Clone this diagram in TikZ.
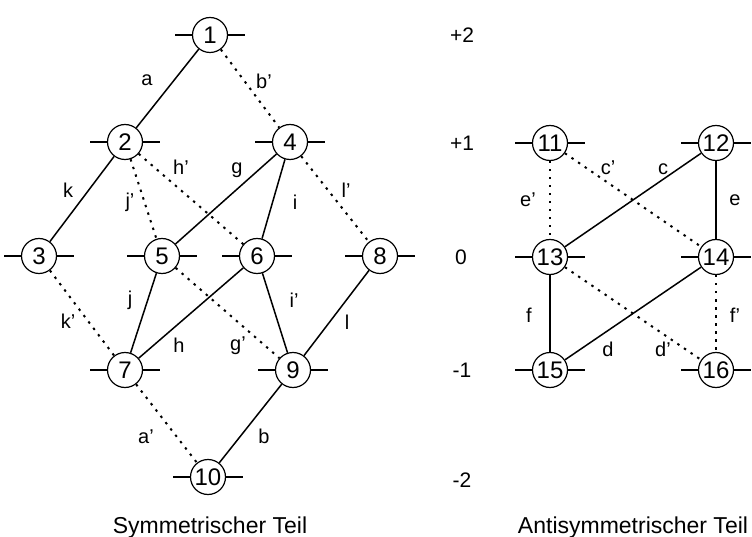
\documentclass[tikz,border=0pt]{standalone}
\usepackage{fontspec}
\setmainfont{Liberation Sans}
\begin{document}
\begin{tikzpicture}[x=1pt,y=-1pt,
  vert/.style={circle,draw,line width=1.2pt,minimum size=35pt,inner sep=0pt,font=\fontsize{24}{24}\selectfont},
  stub/.style={line width=1.4pt},
  solidedge/.style={line width=1.5pt},
  dotedge/.style={line width=2pt,dash pattern=on 2.4pt off 5.6pt},
  lbl/.style={font=\fontsize{20}{20}\selectfont,inner sep=0pt},
  lvl/.style={font=\fontsize{21}{21}\selectfont,inner sep=0pt},
  ttl/.style={font=\fontsize{23}{23}\selectfont,inner sep=0pt,anchor=base}]
\useasboundingbox (0,0) rectangle (752,537);
\foreach \n/\x/\y in {1/210/35, 2/125/142, 4/290/142, 3/39/256, 5/162/256, 6/257/256, 8/380/256,
  7/125/370, 9/293/370, 10/208/477, 11/550/143, 12/716/143, 13/550/257, 14/716/257, 15/550/370, 16/716/370} {
  \node[vert] (n\n) at (\x,\y) {\n};
  \coordinate (sl\n) at (\x-35,\y);
  \coordinate (sr\n) at (\x+35,\y);
  \draw[stub] (sl\n) -- (n\n.west) (n\n.east) -- (sr\n);
}
% symmetric part
\draw[solidedge] (n1) -- (n2);
\draw[solidedge] (n2) -- (n3);
\draw[solidedge] (n4) -- (n5);
\draw[solidedge] (n4) -- (n6);
\draw[solidedge] (n5) -- (n7);
\draw[solidedge] (n6) -- (n7);
\draw[solidedge] (n6) -- (n9);
\draw[solidedge] (n8) -- (n9);
\draw[solidedge] (n9) -- (n10);
\draw[dotedge] (n1) -- (n4);
\draw[dotedge] (n2) -- (n5);
\draw[dotedge] (n2) -- (n6);
\draw[dotedge] (n4) -- (n8);
\draw[dotedge] (n3) -- (n7);
\draw[dotedge] (n5) -- (n9);
\draw[dotedge] (n7) -- (n10);
% antisymmetric part
\draw[solidedge] (n12) -- (n13);
\draw[solidedge] (n12) -- (n14);
\draw[solidedge] (n13) -- (n15);
\draw[solidedge] (n14) -- (n15);
\draw[dotedge] (n11) -- (n14);
\draw[dotedge] (n11) -- (n13);
\draw[dotedge] (n13) -- (n16);
\draw[dotedge] (n14) -- (n16);
% edge labels
\node[lbl] (la) at (147,80) {a};
\node[lbl] (lbp) at (264,81) {b'};
\node[lbl] (lk) at (68,190) {k};
\node[lbl] (ljp) at (130,202) {j'};
\node[lbl] (lhp) at (181,167) {h'};
\node[lbl] (lg) at (237,170) {g};
\node[lbl] (li) at (295,202) {i};
\node[lbl] (llp) at (346,190) {l'};
\node[lbl] (lkp) at (68,321) {k'};
\node[lbl] (lj) at (130,300) {j};
\node[lbl] (lh) at (179,345) {h};
\node[lbl] (lgp) at (238,346) {g'};
\node[lbl] (lip) at (294,300) {i'};
\node[lbl] (ll) at (347,322) {l};
\node[lbl] (lap) at (146,437) {a'};
\node[lbl] (lb) at (264,436) {b};
\node[lbl] (lcp) at (608,168) {c'};
\node[lbl] (lc) at (663,169) {c};
\node[lbl] (lep) at (528,200) {e'};
\node[lbl] (le) at (735,200) {e};
\node[lbl] (lf) at (529,315) {f};
\node[lbl] (lfp) at (735,315) {f'};
\node[lbl] (ld) at (608,349) {d};
\node[lbl] (ldp) at (663,349) {d'};
% level labels
\node[lvl] (lv2) at (462,35) {+2};
\node[lvl] (lv1) at (462,143) {+1};
\node[lvl] (lv0) at (461,257) {0};
\node[lvl] (lvm1) at (462,370) {-1};
\node[lvl] (lvm2) at (462,480) {-2};
% titles
\node[ttl] (t1) at (210,533) {Symmetrischer Teil};
\node[ttl] (t2) at (633,533) {Antisymmetrischer Teil};
\end{tikzpicture}
\end{document}
